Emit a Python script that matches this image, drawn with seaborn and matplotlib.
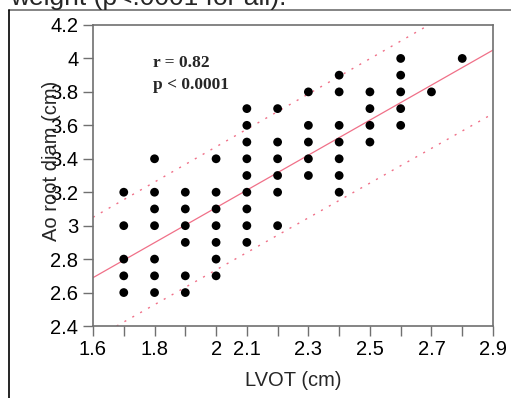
import matplotlib
matplotlib.use("Agg")
import matplotlib.pyplot as plt
import seaborn as sns
import pandas as pd
from matplotlib.lines import Line2D

# ---- data ----
lvot_levels = [1.7, 1.8, 1.9, 2.0, 2.1, 2.2, 2.3, 2.4, 2.5, 2.6, 2.7, 2.8]
ao_1_7 = [3.2, 3.0, 2.8, 2.7, 2.6]
ao_1_8 = [3.4, 3.2, 3.1, 3.0, 2.8, 2.7, 2.6]
ao_1_9 = [3.2, 3.1, 3.0, 2.9, 2.7, 2.6]
ao_2_0 = [3.4, 3.2, 3.1, 3.0, 2.9, 2.8, 2.7]
ao_2_1 = [3.7, 3.6, 3.5, 3.4, 3.3, 3.2, 3.1, 3.0, 2.9]
ao_2_2 = [3.7, 3.5, 3.4, 3.3, 3.2, 3.0]
ao_2_3 = [3.8, 3.6, 3.5, 3.4, 3.3]
ao_2_4 = [3.9, 3.8, 3.6, 3.5, 3.4, 3.3, 3.2]
ao_2_5 = [3.8, 3.7, 3.6, 3.5]
ao_2_6 = [4.0, 3.9, 3.8, 3.7, 3.6]
ao_2_7 = [3.8]
ao_2_8 = [4.0]
ao_columns = [ao_1_7, ao_1_8, ao_1_9, ao_2_0, ao_2_1, ao_2_2,
              ao_2_3, ao_2_4, ao_2_5, ao_2_6, ao_2_7, ao_2_8]

# regression line and prediction band
fit_x = [1.6, 2.9]
fit_y = [2.689, 4.05]
upper_y = [3.05, 4.42]
lower_y = [2.32, 3.67]

x_ticks = [1.6, 1.7, 1.8, 1.9, 2.0, 2.1, 2.2, 2.3, 2.4, 2.5, 2.6, 2.7, 2.8, 2.9]
x_tick_labels = ["1.6", "", "1.8", "", "2", "2.1", "", "2.3", "", "2.5", "", "2.7", "", "2.9"]
y_ticks = [2.4, 2.6, 2.8, 3.0, 3.2, 3.4, 3.6, 3.8, 4.0, 4.2]
y_tick_labels = ["2.4", "2.6", "2.8", "3", "3.2", "3.4", "3.6", "3.8", "4", "4.2"]

stat_r = "r = 0.82"
stat_p = "p < 0.0001"
x_label = "LVOT (cm)"
y_label = "Ao root diam (cm)"
caption = "weight (p<.0001 for all)."

# ---- build table ----
rows = []
for xv, col in zip(lvot_levels, ao_columns):
    for yv in col:
        rows.append((xv, yv))
df = pd.DataFrame(rows, columns=["lvot", "ao"])
lines = pd.DataFrame({
    "x": fit_x * 3,
    "y": fit_y + upper_y + lower_y,
    "kind": ["fit"] * 2 + ["upper"] * 2 + ["lower"] * 2,
})

sns.set_theme(style="white")
plt.rcParams["font.family"] = ["Liberation Sans", "DejaVu Sans"]

W, H = 511, 398
fig = plt.figure(figsize=(W / 100, H / 100), dpi=100)
ax = fig.add_axes([93 / W, 1 - 326 / H, 400 / W, 301 / H])

line_color = "#f07088"
sns.lineplot(data=lines[lines.kind == "fit"], x="x", y="y", ax=ax,
             color=line_color, lw=0.9, zorder=2)
for k in ["upper", "lower"]:
    sns.lineplot(data=lines[lines.kind == k], x="x", y="y", ax=ax,
                 color=line_color, lw=1.0, linestyle=(0, (1.5, 5)), zorder=2)
sns.scatterplot(data=df, x="lvot", y="ao", ax=ax, color="black", s=40,
                edgecolor="none", zorder=3)

ax.set_xlim(1.6, 2.9)
ax.set_ylim(2.4, 4.2)
ax.set_xticks(x_ticks)
ax.set_xticklabels(x_tick_labels)
ax.set_yticks(y_ticks)
ax.set_yticklabels(y_tick_labels)
ax.tick_params(axis="both", direction="out", length=7, width=1.0,
               color="#707070", labelsize=14.5, labelcolor="black")
ax.tick_params(axis="y", pad=3.5, left=True)
ax.tick_params(axis="x", pad=3, bottom=True)
for s in ax.spines.values():
    s.set_color("#707070")
    s.set_linewidth(1.2)
ax.set_xlabel("")
ax.set_ylabel("")

fig.text(293 / W, 1 - 380 / H, x_label, ha="center", va="center", fontsize=14.5)
fig.text(52 / W, 1 - 161 / H, y_label, ha="center", va="center",
         rotation=90, fontsize=14.5)

ax.text(153 / W, 1 - 63 / H, stat_r, transform=fig.transFigure,
        family=["Liberation Serif"], fontweight="bold", fontsize=12.5,
        ha="left", va="center")
ax.text(153 / W, 1 - 85 / H, stat_p, transform=fig.transFigure,
        family=["Liberation Serif"], fontweight="bold", fontsize=12.5,
        ha="left", va="center")

# surrounding page elements: outer frame and cropped caption text
fig.add_artist(Line2D([9 / W, 1.0], [1 - 10 / H, 1 - 10 / H],
                      transform=fig.transFigure, color="#707070", lw=1.2))
fig.add_artist(Line2D([9 / W, 9 / W], [0, 1 - 10 / H],
                      transform=fig.transFigure, color="black", lw=1.2))
fig.text(10 / W, 1 - 5 / H, caption, ha="left", va="baseline", fontsize=19)

fig.savefig("out.png", dpi=100)
